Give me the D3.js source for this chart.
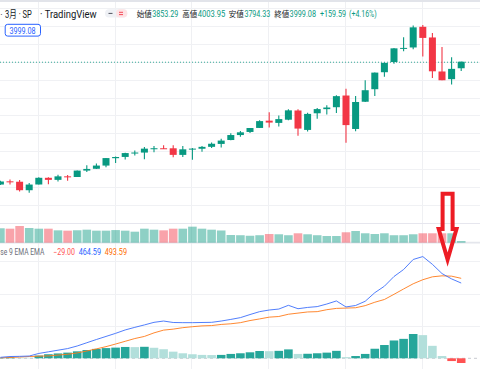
<!DOCTYPE html>
<html><head><meta charset="utf-8">
<script src="https://cdn.jsdelivr.net/npm/d3@7"></script>
<style>html,body{margin:0;padding:0;background:#fff;overflow:hidden}svg{display:block}</style>
</head><body><svg id="c" width="480" height="369"></svg>
<script>
// ---- data (S&P 500, quarterly candles) ----
const quarters = ["2011Q1","2011Q2","2011Q3","2011Q4","2012Q1","2012Q2","2012Q3","2012Q4",
"2013Q1","2013Q2","2013Q3","2013Q4","2014Q1","2014Q2","2014Q3","2014Q4",
"2015Q1","2015Q2","2015Q3","2015Q4","2016Q1","2016Q2","2016Q3","2016Q4",
"2017Q1","2017Q2","2017Q3","2017Q4","2018Q1","2018Q2","2018Q3","2018Q4",
"2019Q1","2019Q2","2019Q3","2019Q4","2020Q1","2020Q2","2020Q3","2020Q4",
"2021Q1","2021Q2","2021Q3","2021Q4","2022Q1","2022Q2","2022Q3","2022Q4","2023Q1"];
const opens = [1257.62,1329.48,1320.64,1131.21,1258.86,1408.47,1362.33,1440.90,
1426.19,1569.18,1609.78,1681.34,1845.86,1873.96,1962.29,1971.44,
2058.90,2067.63,2067.00,1919.65,2038.20,2056.62,2099.34,2164.33,
2251.57,2362.34,2431.39,2521.20,2683.73,2633.45,2704.95,2910.63,
2476.96,2848.63,2940.91,2983.69,3244.67,2498.08,3105.92,3385.87,
3764.61,3992.78,4300.73,4317.16,4778.14,4540.32,3781.00,3609.78,3853.29];
const highs = [1344.07,1370.58,1356.48,1292.66,1419.15,1422.38,1474.51,1470.96,
1570.28,1687.18,1729.86,1849.44,1883.97,1968.17,2019.26,2093.55,
2119.59,2134.72,2132.82,2116.48,2075.07,2120.55,2193.81,2277.53,
2400.98,2453.82,2519.44,2694.97,2872.87,2800.18,2940.91,2939.86,
2860.31,2964.15,3027.98,3247.93,3393.52,3233.13,3588.11,3760.20,
3983.87,4302.73,4545.85,4808.93,4818.62,4637.30,4325.28,4100.96,4003.95];
const lows = [1249.05,1258.07,1101.54,1074.77,1258.86,1266.74,1325.41,1343.35,
1426.19,1536.03,1604.57,1646.47,1737.92,1814.36,1904.78,1820.66,
1980.90,2048.38,1867.01,1871.91,1810.10,1991.68,2074.02,2083.79,
2245.13,2322.25,2405.70,2520.40,2532.69,2553.80,2691.99,2346.58,
2443.96,2728.81,2822.12,2855.94,2191.86,2447.49,3101.17,3233.94,
3662.71,3955.77,4233.13,4278.94,4114.65,3636.87,3584.13,3491.58,3794.33];
const closes = [1325.83,1320.64,1131.42,1257.60,1408.47,1362.16,1440.67,1426.19,
1569.19,1606.28,1681.55,1848.36,1872.34,1960.23,1972.29,2058.90,
2067.89,2063.11,1920.03,2043.94,2059.74,2098.86,2168.27,2238.83,
2362.72,2423.41,2519.36,2673.61,2640.87,2718.37,2913.98,2506.85,
2834.40,2941.76,2976.74,3230.78,2584.59,3100.29,3363.00,3756.07,
3972.89,4297.50,4307.54,4766.18,4530.41,3785.38,3585.62,3839.49,3999.08];
const volumes = [216,210,250,220,210,210,185,180,186,195,180,180,189,180,165,210,
195,185,210,210,240,210,195,183,115,112,104,112,130,126,112,141,
126,112,100,100,156,175,141,130,141,112,112,126,141,141,141,141,25];
const macdLine = [6,11,12,14,30,40,50,60,76,96,116,135,154,175,191,206,
222,230,221,220,220,221,222,230,240,251,270,288,298,304,327,306,
314,319,335,354,317,326,352,405,445,505,548,610,628,580,523,490,464.59];
const signalLine = [3,5,8,11,13,15,20,25,33,45,58,72,88,105,122,135,
157,174,180,189,195,200,202,209,213,220,233,243,254,258,272,279,
286,288,300,308,310,312,325,346,363,395,428,460,485,503,509,507,493.59];
const histogram = [3,6,4,3,17,25,30,35,43,51,58,63,66,70,69,71,
65,56,41,31,25,21,20,21,27,31,37,45,44,46,55,27,
28,31,35,46,7,14,27,59,82,110,120,150,143,77,14,-17,-29];
const priceTicks = [400,800,1200,1600,2000,2400,2800,3200,3600,4000,4400,4800,5200];
const macdTicks = [200,400,600];
const timeGridQuarters = ["2012Q1","2014Q1","2016Q1","2018Q1","2020Q1","2022Q1"];

// ---- drawing ----
const svg = d3.select("#c");
const UP = "#089981", DOWN = "#f23645";
const F = "Roboto, 'Noto Sans CJK JP', sans-serif";
const n = quarters.length;

const x = d3.scaleBand().domain(quarters).range([-4.4, -4.4 + 9.6 * n]).paddingInner(0);
const cx = q => x(q) + x.bandwidth() / 2;
const y = d3.scaleLinear().domain([0, 5400]).range([240.9, -1.05]);
const yVol = d3.scaleLinear().domain([0, 250]).range([242.7, 226]);
const yM = d3.scaleLinear().domain([0, 600]).range([358.3, 261.1]);

svg.append("rect").attr("width", 480).attr("height", 369).attr("fill", "#fff");

// grid
const g = svg.append("g");
g.selectAll(".vg").data(timeGridQuarters).join("line")
  .attr("x1", q => Math.round(cx(q)) - 0.5).attr("x2", q => Math.round(cx(q)) - 0.5)
  .attr("y1", 0).attr("y2", 369).attr("stroke", "#eff0f3").attr("stroke-width", 1);
g.selectAll(".hg").data(priceTicks).join("line")
  .attr("x1", 0).attr("x2", 480)
  .attr("y1", d => Math.round(y(d)) + 0.5).attr("y2", d => Math.round(y(d)) + 0.5)
  .attr("stroke", d => d === 400 ? "#e6e6ee" : "#f0f1f4").attr("stroke-width", 1);
g.selectAll(".mg").data(macdTicks).join("line")
  .attr("x1", 0).attr("x2", 480)
  .attr("y1", d => Math.round(yM(d)) + 0.5).attr("y2", d => Math.round(yM(d)) + 0.5)
  .attr("stroke", "#f0f1f4").attr("stroke-width", 1);

// top border & pane separator
svg.append("rect").attr("x", 0).attr("y", 0).attr("width", 480).attr("height", 2).attr("fill", "#e2e4ea");
svg.append("line").attr("x1", 0).attr("x2", 480).attr("y1", 242.6).attr("y2", 242.6)
  .attr("stroke", "#e4e6ec").attr("stroke-width", 1.6);

const idx = d3.range(n);
const isUp = i => closes[i] >= opens[i];

// volume
svg.append("g").selectAll("rect").data(idx).join("rect")
  .attr("x", i => cx(quarters[i]) - 4.3).attr("width", 8.6)
  .attr("y", i => yVol(volumes[i])).attr("height", i => yVol(0) - yVol(volumes[i]))
  .attr("fill", i => isUp(i) ? UP : DOWN).attr("opacity", 0.46);

// last price dotted line
svg.append("line").attr("x1", 0).attr("x2", 480)
  .attr("y1", y(closes[n - 1]) + 0.5).attr("y2", y(closes[n - 1]) + 0.5)
  .attr("stroke", UP).attr("stroke-width", 1).attr("stroke-dasharray", "1,2").attr("opacity", 0.8);

// candles
const cg = svg.append("g");
cg.selectAll("line").data(idx).join("line")
  .attr("x1", i => cx(quarters[i])).attr("x2", i => cx(quarters[i]))
  .attr("y1", i => y(highs[i])).attr("y2", i => y(lows[i]))
  .attr("stroke", i => isUp(i) ? UP : DOWN).attr("stroke-width", 1.1);
cg.selectAll("rect").data(idx).join("rect")
  .attr("x", i => cx(quarters[i]) - 3.5).attr("width", 7)
  .attr("y", i => Math.min(y(opens[i]), y(closes[i])))
  .attr("height", i => Math.max(1, Math.abs(y(opens[i]) - y(closes[i]))))
  .attr("fill", i => isUp(i) ? UP : DOWN);

// MACD zero line
svg.append("line").attr("x1", 0).attr("x2", 480).attr("y1", yM(0)).attr("y2", yM(0))
  .attr("stroke", "#c9cad0").attr("stroke-width", 1).attr("stroke-dasharray", "3,3");

// histogram
const histColor = i => {
  const h = histogram[i], p = i > 0 ? histogram[i - 1] : 0;
  if (h >= 0) return h > p ? "#26a69a" : "#b2dfdb";
  return h < p ? "#ff5252" : "#ffcdd2";
};
svg.append("g").selectAll("rect").data(idx).join("rect")
  .attr("x", i => cx(quarters[i]) - 4.3).attr("width", 8.6)
  .attr("y", i => Math.min(yM(0), yM(histogram[i])))
  .attr("height", i => Math.abs(yM(histogram[i]) - yM(0)))
  .attr("fill", histColor);

// MACD / signal lines
const ln = arr => d3.line().x(i => cx(quarters[i])).y(i => yM(arr[i]))(idx);
svg.append("path").attr("d", ln(signalLine)).attr("fill", "none").attr("stroke", "#ff7a1a").attr("stroke-width", 0.9);
svg.append("path").attr("d", ln(macdLine)).attr("fill", "none").attr("stroke", "#3d6ffb").attr("stroke-width", 0.9);

// ---- texts ----
function txt(s, x0, yb, size, color, len, anchor) {
  const t = svg.append("text").attr("x", x0).attr("y", yb).attr("font-family", F)
    .attr("font-size", size).attr("fill", color).text(s);
  if (anchor) t.attr("text-anchor", anchor);
  if (len) t.attr("textLength", len).attr("lengthAdjust", "spacingAndGlyphs");
  return t;
}
const fmt = d3.format(".2f");
const last = n - 1;
// title
txt("·", 0.2, 17.8, 9, "#131722");
txt("3月 · SP", 5, 17.8, 10, "#131722", 26.7);
txt("· TradingView", 40, 17.8, 10, "#131722", 56.7);
// buttons
svg.append("rect").attr("x", 105).attr("y", 9.3).attr("width", 22.3).attr("height", 8.2).attr("rx", 4.1).attr("fill", "#eff1f5");
svg.append("rect").attr("x", 116).attr("y", 9.3).attr("width", 11.3).attr("height", 8.2).attr("rx", 4.1).attr("fill", "#fde3e5");
svg.append("line").attr("x1", 108.5).attr("x2", 112.5).attr("y1", 13.4).attr("y2", 13.4).attr("stroke", "#50535e").attr("stroke-width", 1);
svg.append("line").attr("x1", 119).attr("x2", 123).attr("y1", 12.3).attr("y2", 12.3).attr("stroke", DOWN).attr("stroke-width", 0.9);
svg.append("line").attr("x1", 119).attr("x2", 123).attr("y1", 14.6).attr("y2", 14.6).attr("stroke", DOWN).attr("stroke-width", 0.9);
// OHLC values
const chg = closes[last] - closes[last - 1];
const pct = chg / closes[last - 1] * 100;
const vb = 16.8, vs = 8.4, lab = "#131722";
txt("始値", 136.7, vb, vs, lab, 15);
txt(fmt(opens[last]), 152.3, vb, vs, UP, 26);
txt("高値", 182.3, vb, vs, lab, 15);
txt(fmt(highs[last]), 197.7, vb, vs, UP, 27.5);
txt("安値", 228.7, vb, vs, lab, 15);
txt(fmt(lows[last]), 244.4, vb, vs, UP, 25.8);
txt("終値", 274.3, vb, vs, lab, 15);
txt(fmt(closes[last]), 289.6, vb, vs, UP, 26.4);
txt((chg >= 0 ? "+" : "−") + fmt(Math.abs(chg)), 320, vb, vs, UP, 26);
txt("(" + (pct >= 0 ? "+" : "−") + fmt(Math.abs(pct)) + "%)", 349, vb, vs, UP, 27.7);
// price label box
svg.append("rect").attr("x", 5.2).attr("y", 24.3).attr("width", 35.3).attr("height", 11.8).attr("rx", 2.5)
  .attr("fill", "#fff").attr("stroke", "#2962ff").attr("stroke-width", 1);
txt(fmt(closes[last]), 9.4, 33.6, 8.2, "#2962ff", 26.2);
// MACD legend
const lb = 255.4;
txt("se 9 EMA EMA", 0.3, lb, 8.4, "#6a6d78", 44);
const h = histogram[last];
txt((h < 0 ? "−" : "") + fmt(Math.abs(h)), 53.3, lb, 8.4, "#ff5252", 21.7);
txt(fmt(macdLine[last]), 78.7, lb, 8.4, "#2962ff", 22.3);
txt(fmt(signalLine[last]), 104.7, lb, 8.4, "#ff6d00", 22.3);

// ---- red arrow annotation (anchored between 2022Q3 and 2022Q4) ----
const ax = (cx("2022Q3") + cx("2022Q4")) / 2 + 0.8;
const pts = [[ax - 5, 193.7], [ax + 5, 193.7], [ax + 5, 229], [ax + 8.9, 229],
             [ax, 259.5], [ax - 8.9, 229], [ax - 5, 229]];
svg.append("path").attr("d", d3.line()(pts) + "Z").attr("fill", "none")
  .attr("stroke", "#ed1c24").attr("stroke-width", 4).attr("stroke-linejoin", "miter").attr("stroke-miterlimit", 10);
</script></body></html>
